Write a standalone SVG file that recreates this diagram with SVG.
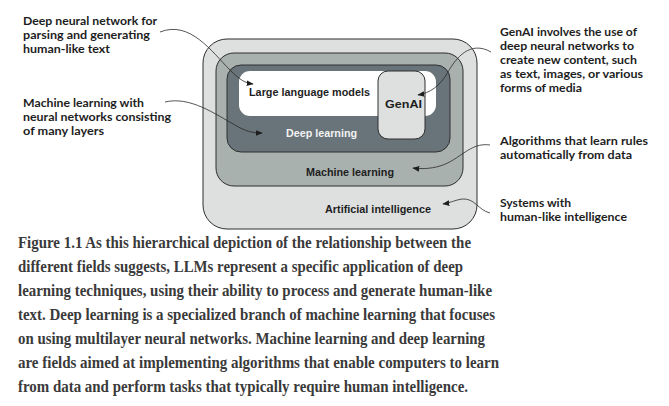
<svg xmlns="http://www.w3.org/2000/svg" width="669" height="406" viewBox="0 0 669 406">
<defs>
<style>
.box{stroke:#2e2e2e;stroke-width:1}
.lbl{font-family:"Liberation Sans",Arial,sans-serif;font-weight:bold;font-size:10.5px;fill:#1e1e1e}
.ann{font-family:Lato,"Open Sans",sans-serif;font-weight:bold;font-size:11.5px;fill:#1e1e1e}
.cap{font-family:"Liberation Serif","Times New Roman",serif;font-weight:bold;font-size:16px;fill:#3a3a3a}
.con{fill:none;stroke:#2a2a2a;stroke-width:0.8}
</style>
<marker id="ah" viewBox="0 0 10 10" refX="9" refY="5" markerWidth="7" markerHeight="7" orient="auto" markerUnits="userSpaceOnUse">
<path d="M0,1 L10,5 L0,9 Z" fill="#1e1e1e"/>
</marker>
</defs>
<rect width="669" height="406" fill="#ffffff"/>

<g id="ai">
<rect class="box" x="203" y="39" width="274" height="190" rx="24" fill="#dde0df"/>
<text class="lbl" x="325" y="213" textLength="106" lengthAdjust="spacingAndGlyphs">Artificial intelligence</text>
</g>
<g id="ml">
<rect class="box" x="216" y="53" width="247" height="133" rx="18" fill="#a9b1ae"/>
<text class="lbl" x="306" y="176" textLength="88" lengthAdjust="spacingAndGlyphs">Machine learning</text>
</g>
<g id="dl">
<rect class="box" x="227" y="65" width="223" height="87" rx="14" fill="#69747a"/>
<text class="lbl" x="286" y="137" textLength="71" lengthAdjust="spacingAndGlyphs" style="fill:#f2f2f2">Deep learning</text>
</g>
<g id="llm">
<rect x="239" y="71" width="197" height="45" rx="11" fill="#ffffff" stroke="none"/>
<text class="lbl" x="249" y="96" textLength="121" lengthAdjust="spacingAndGlyphs">Large language models</text>
</g>
<g id="genai">
<rect class="box" x="378" y="71" width="47" height="68" rx="10" fill="#dde0df"/>
<text class="lbl" x="385" y="108" textLength="37" lengthAdjust="spacingAndGlyphs">GenAI</text>
</g>

<g id="notes">
<text class="ann" x="23" y="25" textLength="134" lengthAdjust="spacingAndGlyphs">Deep neural network for</text>
<text class="ann" x="23" y="39" textLength="127" lengthAdjust="spacingAndGlyphs">parsing and generating</text>
<text class="ann" x="23" y="53" textLength="87" lengthAdjust="spacingAndGlyphs">human-like text</text>
<text class="ann" x="23" y="107" textLength="121" lengthAdjust="spacingAndGlyphs">Machine learning with</text>
<text class="ann" x="23" y="121" textLength="148" lengthAdjust="spacingAndGlyphs">neural networks consisting</text>
<text class="ann" x="23" y="135" textLength="81" lengthAdjust="spacingAndGlyphs">of many layers</text>
<text class="ann" x="500" y="36" textLength="137" lengthAdjust="spacingAndGlyphs">GenAI involves the use of</text>
<text class="ann" x="500" y="50" textLength="134" lengthAdjust="spacingAndGlyphs">deep neural networks to</text>
<text class="ann" x="500" y="64" textLength="137" lengthAdjust="spacingAndGlyphs">create new content, such</text>
<text class="ann" x="500" y="78" textLength="143" lengthAdjust="spacingAndGlyphs">as text, images, or various</text>
<text class="ann" x="500" y="92" textLength="82" lengthAdjust="spacingAndGlyphs">forms of media</text>
<text class="ann" x="500" y="145" textLength="148" lengthAdjust="spacingAndGlyphs">Algorithms that learn rules</text>
<text class="ann" x="500" y="159" textLength="132" lengthAdjust="spacingAndGlyphs">automatically from data</text>
<text class="ann" x="500" y="207" textLength="71" lengthAdjust="spacingAndGlyphs">Systems with</text>
<text class="ann" x="500" y="221" textLength="127" lengthAdjust="spacingAndGlyphs">human-like intelligence</text>
</g>

<g id="connectors">
<path class="con" marker-end="url(#ah)" d="M160,32 C190,20 212,52 230,70 C240,80 245,83 253,84"/>
<path class="con" marker-end="url(#ah)" d="M165,102 C190,96 215,114 235,125 C245,131 252,133 262,133"/>
<path class="con" marker-end="url(#ah)" d="M491,52 C470,40 456,58 448,72 C440,86 430,93 418,95"/>
<path class="con" marker-end="url(#ah)" d="M490,145 C470,142 460,160 440,166 C430,169 420,169 413,168"/>
<path class="con" marker-end="url(#ah)" d="M490,213 C478,210 475,198 462,199 C455,200 450,203 443,204"/>
</g>

<g id="caption">
<text class="cap" x="18" y="248" textLength="453" lengthAdjust="spacingAndGlyphs">Figure 1.1 As this hierarchical depiction of the relationship between the</text>
<text class="cap" x="18" y="272" textLength="445" lengthAdjust="spacingAndGlyphs">different fields suggests, LLMs represent a specific application of deep</text>
<text class="cap" x="18" y="296" textLength="474" lengthAdjust="spacingAndGlyphs">learning techniques, using their ability to process and generate human-like</text>
<text class="cap" x="18" y="320" textLength="477" lengthAdjust="spacingAndGlyphs">text. Deep learning is a specialized branch of machine learning that focuses</text>
<text class="cap" x="18" y="344" textLength="467" lengthAdjust="spacingAndGlyphs">on using multilayer neural networks. Machine learning and deep learning</text>
<text class="cap" x="18" y="368" textLength="481" lengthAdjust="spacingAndGlyphs">are fields aimed at implementing algorithms that enable computers to learn</text>
<text class="cap" x="18" y="392" textLength="450" lengthAdjust="spacingAndGlyphs">from data and perform tasks that typically require human intelligence.</text>
</g>
</svg>
